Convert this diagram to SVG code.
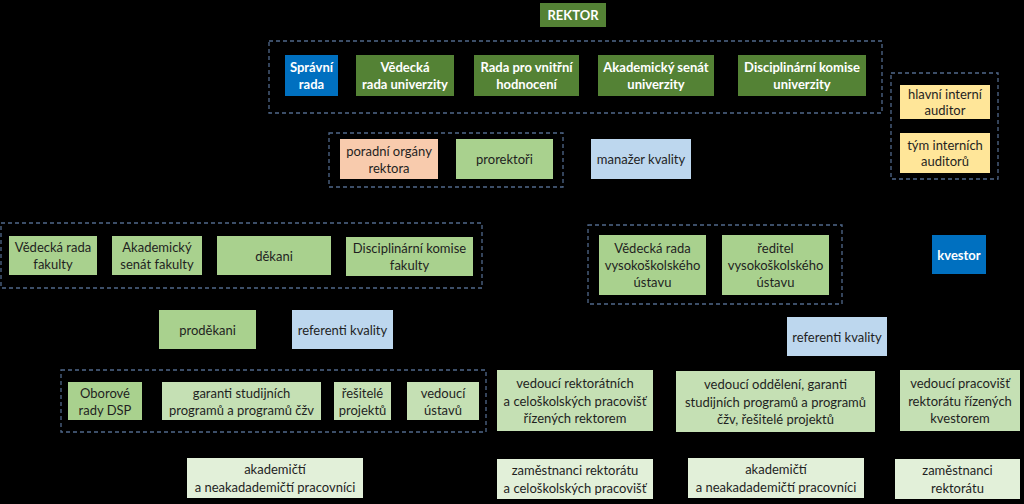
<svg xmlns="http://www.w3.org/2000/svg" width="1024" height="504" viewBox="0 0 1024 504">
<style>
text{font-family:Lato,"Open Sans","Liberation Sans",sans-serif;font-size:13px;text-anchor:middle;dominant-baseline:central;fill:#1f1f1f}
.w{fill:#fff;font-weight:bold}
.dg{fill:#548235}
.bl{fill:#0070c0}
.lg{fill:#a9d18e}
.mg{fill:#c5e0b4}
.pg{fill:#e2f0d9}
.pe{fill:#f8cbad}
.lb{fill:#bdd7ee}
.ye{fill:#ffe699}
.grp{fill:none;stroke:#50688a;stroke-width:1.3;stroke-dasharray:4 3}
</style>
<rect x="0" y="0" width="1024" height="504" fill="#000"/>
<g id="groups">
<rect class="grp" x="269" y="41" width="613" height="72"/>
<rect class="grp" x="329" y="133" width="234" height="54"/>
<rect class="grp" x="891" y="73" width="107" height="106"/>
<rect class="grp" x="1" y="223" width="481" height="65"/>
<rect class="grp" x="588" y="225" width="254" height="79"/>
<rect class="grp" x="61" y="370" width="425" height="62"/>
</g>
<g id="connectors"></g>
<g id="rektor"><rect class="dg" x="540" y="3" width="66" height="24"/><text class="w" x="573" y="15">REKTOR</text></g>
<g id="spravni"><rect class="bl" x="285" y="55" width="53" height="41"/><text class="w" x="311.5" y="67">Správní</text><text class="w" x="311.5" y="84">rada</text></g>
<g id="vedecka-u"><rect class="dg" x="356" y="55" width="98" height="41"/><text class="w" x="405" y="67">Vědecká</text><text class="w" x="405" y="84">rada univerzity</text></g>
<g id="rvh"><rect class="dg" x="474" y="55" width="105" height="41"/><text class="w" x="526.5" y="67">Rada pro vnitřní</text><text class="w" x="526.5" y="84">hodnocení</text></g>
<g id="as-u"><rect class="dg" x="598" y="55" width="116" height="41"/><text class="w" x="656" y="67">Akademický senát</text><text class="w" x="656" y="84">univerzity</text></g>
<g id="dk-u"><rect class="dg" x="738" y="55" width="128" height="41"/><text class="w" x="802" y="67">Disciplinární komise</text><text class="w" x="802" y="84">univerzity</text></g>
<g id="hia"><rect class="ye" x="900" y="85" width="90" height="34"/><text x="945" y="94">hlavní interní</text><text x="945" y="110">auditor</text></g>
<g id="tia"><rect class="ye" x="900" y="133" width="90" height="40"/><text x="945" y="145">tým interních</text><text x="945" y="161">auditorů</text></g>
<g id="poradni"><rect class="pe" x="340" y="139" width="98" height="40"/><text x="389" y="151">poradní orgány</text><text x="389" y="168">rektora</text></g>
<g id="prorektori"><rect class="lg" x="456" y="139" width="97" height="40"/><text x="504.5" y="159">prorektoři</text></g>
<g id="manazer"><rect class="lb" x="591" y="139" width="100" height="40"/><text x="641" y="159">manažer kvality</text></g>
<g id="vr-f"><rect class="lg" x="9" y="236" width="88" height="39"/><text x="53" y="247">Vědecká rada</text><text x="53" y="264">fakulty</text></g>
<g id="as-f"><rect class="lg" x="112" y="236" width="90" height="39"/><text x="157" y="247">Akademický</text><text x="157" y="264">senát fakulty</text></g>
<g id="dekani"><rect class="lg" x="217" y="236" width="114" height="39"/><text x="274" y="255.5">děkani</text></g>
<g id="dk-f"><rect class="lg" x="346" y="237" width="127" height="39"/><text x="409.5" y="248">Disciplinární komise</text><text x="409.5" y="265">fakulty</text></g>
<g id="vr-vu"><rect class="lg" x="599" y="235" width="107" height="60"/><text x="652.5" y="248">Vědecká rada</text><text x="652.5" y="265">vysokoškolského</text><text x="652.5" y="282">ústavu</text></g>
<g id="reditel"><rect class="lg" x="722" y="235" width="107" height="60"/><text x="775.5" y="248">ředitel</text><text x="775.5" y="265">vysokoškolského</text><text x="775.5" y="282">ústavu</text></g>
<g id="kvestor"><rect class="bl" x="932" y="235" width="54" height="39"/><text class="w" x="959" y="254.5">kvestor</text></g>
<g id="prodekani"><rect class="lg" x="159" y="310" width="97" height="39"/><text x="207.5" y="329.5">proděkani</text></g>
<g id="ref-f"><rect class="lb" x="292" y="310" width="101" height="39"/><text x="342.5" y="329.5">referenti kvality</text></g>
<g id="ref-vu"><rect class="lb" x="787" y="317" width="100" height="39"/><text x="837" y="336.5">referenti kvality</text></g>
<g id="oborove"><rect class="lg" x="68" y="382" width="74" height="38"/><text x="105" y="393">Oborové</text><text x="105" y="410">rady DSP</text></g>
<g id="garanti"><rect class="mg" x="162" y="382" width="159" height="38"/><text x="241.5" y="393">garanti studijních</text><text x="241.5" y="410">programů a programů čžv</text></g>
<g id="resitele"><rect class="mg" x="334" y="382" width="57" height="38"/><text x="362.5" y="393">řešitelé</text><text x="362.5" y="410">projektů</text></g>
<g id="ved-ustavu"><rect class="mg" x="407" y="382" width="72" height="38"/><text x="443" y="393">vedoucí</text><text x="443" y="410">ústavů</text></g>
<g id="ved-rekt"><rect class="mg" x="497" y="370" width="156" height="61"/><text x="575" y="383">vedoucí rektorátních</text><text x="575" y="400.5">a celoškolských pracovišť</text><text x="575" y="418">řízených rektorem</text></g>
<g id="ved-odd"><rect class="mg" x="676" y="371" width="199" height="61"/><text x="775.5" y="384">vedoucí oddělení, garanti</text><text x="775.5" y="401.5">studijních programů a programů</text><text x="775.5" y="419">čžv, řešitelé projektů</text></g>
<g id="ved-prac"><rect class="mg" x="900" y="370" width="120" height="61"/><text x="960" y="383">vedoucí pracovišť</text><text x="960" y="400.5">rektorátu řízených</text><text x="960" y="418">kvestorem</text></g>
<g id="akad-f"><rect class="pg" x="187" y="458" width="176" height="40"/><text x="275" y="469">akademičtí</text><text x="275" y="487">a neakadademičtí pracovníci</text></g>
<g id="zam-rekt"><rect class="pg" x="497" y="459" width="156" height="40"/><text x="575" y="470">zaměstnanci rektorátu</text><text x="575" y="488">a celoškolských pracovišť</text></g>
<g id="akad-vu"><rect class="pg" x="688" y="458" width="176" height="40"/><text x="776" y="469">akademičtí</text><text x="776" y="487">a neakadademičtí pracovníci</text></g>
<g id="zam-r"><rect class="pg" x="895" y="459" width="125" height="40"/><text x="957.5" y="470">zaměstnanci</text><text x="957.5" y="488">rektorátu</text></g>
</svg>
